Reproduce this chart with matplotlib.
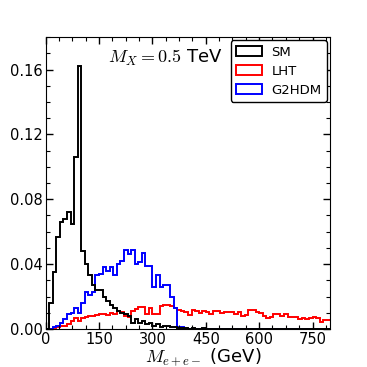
import numpy as np
import matplotlib
matplotlib.use("Agg")
import matplotlib.pyplot as plt
from matplotlib.patches import Patch
from matplotlib.ticker import MultipleLocator

plt.rcParams['mathtext.fontset'] = 'cm'
plt.rcParams['font.family'] = ['DejaVu Sans']

bin_edges = np.arange(0, 810, 10)

sm = [0.0, 0.016, 0.035, 0.057, 0.066, 0.068, 0.072, 0.065, 0.106, 0.162,
      0.048, 0.040, 0.033, 0.027, 0.024, 0.024, 0.020, 0.017, 0.015, 0.013,
      0.011, 0.010, 0.009, 0.008, 0.004, 0.006, 0.004, 0.005, 0.003, 0.004,
      0.002, 0.003, 0.001, 0.002, 0.002, 0.001, 0.001, 0.0005, 0.0005, 0.0005,
      0.0003, 0.0005, 0.0003, 0.0003, 0.0005, 0.0003, 0.0003, 0.0, 0.0003, 0.0003,
      0.0, 0.0003, 0.0, 0.0, 0.0003, 0.0, 0.0, 0.0, 0.0003, 0.0,
      0.0, 0.0, 0.0, 0.0, 0.0, 0.0, 0.0, 0.0, 0.0, 0.0,
      0.0, 0.0, 0.0, 0.0, 0.0, 0.0, 0.0, 0.0, 0.0, 0.0]

lht = [0.0, 0.0, 0.0005, 0.001, 0.002, 0.002, 0.003, 0.005, 0.007, 0.005,
       0.007, 0.0075, 0.008, 0.008, 0.0085, 0.009, 0.009, 0.0085, 0.010, 0.0095,
       0.011, 0.0105, 0.008, 0.0075, 0.011, 0.0125, 0.0135, 0.0135, 0.009, 0.013,
       0.009, 0.009, 0.014, 0.0145, 0.0145, 0.014, 0.013, 0.0115, 0.011, 0.0105,
       0.0088, 0.012, 0.011, 0.010, 0.011, 0.0105, 0.0095, 0.011, 0.011, 0.010,
       0.0105, 0.0107, 0.0107, 0.0092, 0.0107, 0.008, 0.0085, 0.0117, 0.0117, 0.0107,
       0.0097, 0.008, 0.0065, 0.0076, 0.009, 0.009, 0.008, 0.009, 0.0076, 0.0076,
       0.0076, 0.006, 0.0068, 0.006, 0.0068, 0.0076, 0.0068, 0.0045, 0.0055, 0.0055]

g2hdm = [0.0, 0.0, 0.001, 0.002, 0.004, 0.006, 0.009, 0.010, 0.013, 0.010,
         0.016, 0.023, 0.021, 0.023, 0.033, 0.034, 0.038, 0.036, 0.038, 0.033,
         0.040, 0.042, 0.0486, 0.046, 0.0486, 0.040, 0.0415, 0.047, 0.039, 0.039,
         0.026, 0.033, 0.026, 0.027, 0.027, 0.020, 0.013, 0.0015, 0.0015, 0.0003,
         0.0003, 0.0, 0.0, 0.0, 0.0, 0.0, 0.0, 0.0, 0.0, 0.0,
         0.0, 0.0, 0.0, 0.0, 0.0, 0.0, 0.0, 0.0, 0.0, 0.0,
         0.0, 0.0, 0.0, 0.0, 0.0, 0.0, 0.0, 0.0, 0.0, 0.0,
         0.0, 0.0, 0.0, 0.0, 0.0, 0.0, 0.0, 0.0, 0.0, 0.0]

labels = ["SM", "LHT", "G2HDM"]
colors = ["black", "red", "blue"]
x_ticks = [0, 150, 300, 450, 600, 750]
y_ticks = [0.00, 0.04, 0.08, 0.12, 0.16]

fig = plt.figure(figsize=(3.67, 3.67), dpi=100)
ax = fig.add_axes([0.1245, 0.1035, 0.7755, 0.7955])

for vals, c in zip([lht, g2hdm, sm], ["red", "blue", "black"]):
    ax.stairs(vals, bin_edges, color=c, lw=1.4, baseline=None)

ax.set_xlim(0, 800)
ax.set_ylim(0, 0.18)
ax.set_xticks(x_ticks)
ax.set_yticks(y_ticks)
ax.set_yticklabels([f"{v:.2f}" for v in y_ticks])
ax.xaxis.set_minor_locator(MultipleLocator(37.5))
ax.yaxis.set_minor_locator(MultipleLocator(0.01))
ax.tick_params(which='both', direction='in', top=True, right=True, labelsize=10.5)
ax.tick_params(which='major', length=5, width=1, pad=2)
ax.tick_params(which='minor', length=3, width=0.8)

fig.text(0.555, 0.014, r"$M_{e+e-}$ (GeV)", ha='center', va='baseline', fontsize=13)
ax.text(0.42, 0.93, r"$M_X=0.5$ TeV", transform=ax.transAxes, ha='center', va='center', fontsize=13)

handles = [Patch(facecolor='none', edgecolor=c, lw=1.4, label=l) for l, c in zip(labels, colors)]
leg = ax.legend(handles=handles, loc='upper right', fontsize=9.5, borderaxespad=0.25,
                handlelength=2.0, handletextpad=0.7, borderpad=0.4, labelspacing=0.45,
                frameon=True, fancybox=True, framealpha=1)
leg.get_frame().set_edgecolor('black')

fig.savefig("out.png", dpi=100)
